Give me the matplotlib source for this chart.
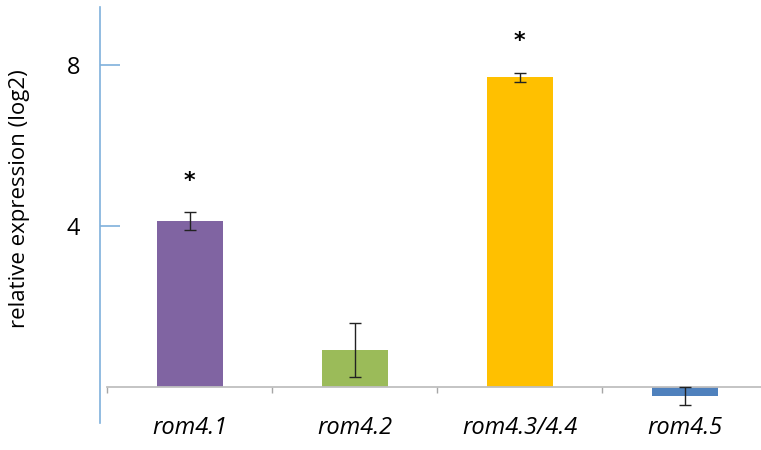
import matplotlib
matplotlib.use("Agg")
import matplotlib.pyplot as plt
import numpy as np

genes = ["rom4.1", "rom4.2", "rom4.3/4.4", "rom4.5"]
expression = [4.13, 0.91, 7.69, -0.22]
errors = [0.22, 0.67, 0.12, 0.22]
significant = [True, False, True, False]
colors = ["#8064A2", "#9BBB59", "#FFC000", "#4F81BD"]
yticks = [4, 8]

plt.rcParams["font.family"] = ["Open Sans", "DejaVu Sans"]

W, H = 761, 450
fig = plt.figure(figsize=(W / 100, H / 100), dpi=100)
# axes box in pixels: x 107..767, y 7..423 (top..bottom)
ax = fig.add_axes([107 / W, 27 / H, 660 / W, 416 / H])

x = np.arange(len(genes))
ax.bar(x, expression, width=0.4, color=colors, zorder=2)
ax.errorbar(x, expression, yerr=errors, fmt="none", ecolor="#222222",
            elinewidth=1, capsize=4, capthick=1, zorder=3)

for xi, v, e, s in zip(x, expression, errors, significant):
    if s:
        ax.text(xi, v + e + 0.78, "*", ha="center", va="center",
                fontsize=16, fontweight="bold", family="DejaVu Sans")

ax.set_xlim(-0.5, 3.5)
ax.set_ylim(-0.894, 9.441)

for side in ("top", "right"):
    ax.spines[side].set_visible(False)
ax.spines["left"].set_position(("outward", 5.04))
ax.spines["left"].set_color("#7FB0DC")
ax.spines["left"].set_linewidth(1.2)
ax.spines["bottom"].set_position(("data", 0))
ax.spines["bottom"].set_color("#BFBFBF")
ax.spines["bottom"].set_linewidth(1.3)

ax.set_yticks(yticks)
ax.set_yticklabels([str(t) for t in yticks])
ax.tick_params(axis="y", direction="in", length=14.4, width=1.2,
               color="#7FB0DC", pad=14.4, labelsize=17)

ax.set_xticks(x)
ax.set_xticklabels(genes, fontstyle="italic")
ax.set_xticks(np.arange(-0.5, 3.0, 1.0), minor=True)
ax.tick_params(axis="x", which="major", length=0, pad=21, labelsize=17)
ax.tick_params(axis="x", which="minor", direction="out", length=4,
               width=1, color="#A6A6A6")

fig.text(20 / W, 1 - 199 / H, "relative expression (log2)", rotation=90,
         ha="center", va="center", fontsize=16)

fig.savefig("out.png", dpi=100)
